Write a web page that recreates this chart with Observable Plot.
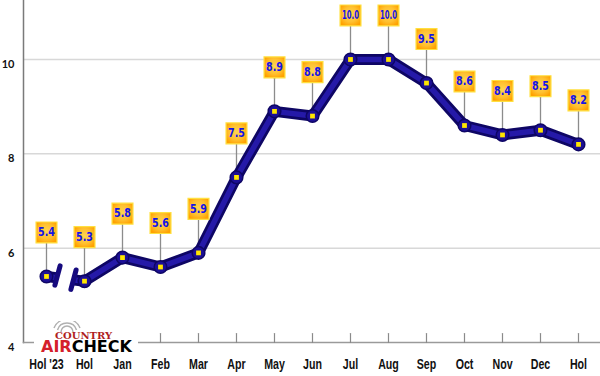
<!DOCTYPE html>
<html><head><meta charset="utf-8">
<script src="https://cdn.jsdelivr.net/npm/d3@7"></script>
<script src="https://cdn.jsdelivr.net/npm/@observablehq/plot@0.6"></script>
<style>
body{margin:0;background:#fff;}
#wrap{position:relative;width:600px;height:376px;overflow:hidden;}
#logo{position:absolute;left:34px;top:321px;width:104px;height:35px;background:#fff;}
#logo .c{position:absolute;left:21px;top:10px;font:bold 10px/9px "DejaVu Serif";color:#b01e1e;white-space:nowrap;}
#logo .a{position:absolute;left:7px;top:19px;font:bold 16px/14px "DejaVu Sans";white-space:nowrap;}
</style></head><body>
<div id="wrap"><div id="chart"></div>
<div id="logo">
<svg width="40" height="12" style="position:absolute;left:14px;top:0px">
<g fill="none" stroke="#b0b0b0" stroke-width="1.5">
<path d="M13,11 A6,6 0 0 1 25,11"/><path d="M9.5,9 A10,10 0 0 1 28.5,9"/><path d="M6,7 A14,14 0 0 1 32,7"/>
</g></svg>
<div class="c">COUNTRY</div>
<div class="a"><span style="color:#d4202a">AIR</span><span style="color:#000">CHECK</span></div>
</div>
</div>
<script>
const months = ["Hol '23","Hol","Jan","Feb","Mar","Apr","May","Jun","Jul","Aug","Sep","Oct","Nov","Dec","Hol"];
const values = [5.4,5.3,5.8,5.6,5.9,7.5,8.9,8.8,10.0,10.0,9.5,8.6,8.4,8.5,8.2];
const yTicks = [4,6,8,10];
const gridTicks = [6,8,10];
const yDomain = [4,11.25];

const data = values.map((v,i)=>({i, v, base: yDomain[0], label: months[i]}));
const idx = data.map(d=>d.i);
const breakPair = [{a: data[0], b: data[1]}];

const leaderShape = {draw(ctx, l){ctx.moveTo(0,0); ctx.lineTo(0,-l);}};
const capShape = {draw(ctx, l){ctx.moveTo(0,l/2); ctx.lineTo(0,-l/2);}};

const navy = "#160a7e";
const plot = Plot.plot({
  width: 600, height: 376,
  marginLeft: 23, marginRight: 0, marginTop: 0, marginBottom: 34,
  x: {type: "point", domain: idx, padding: 0.5, label: null},
  y: {domain: yDomain, label: null},
  marks: [
    Plot.gridY(gridTicks, {stroke: "#d8d8d8", strokeOpacity: 1, strokeWidth: 1.5}),
    Plot.frame({anchor: "left", stroke: "#7a7a7a", strokeWidth: 1.5}),
    Plot.frame({anchor: "bottom", stroke: "#9a9a9a", strokeWidth: 1.5}),
    Plot.vector(data, {x: "i", y: "base", length: 9, anchor: "start", shape: leaderShape, stroke: "#8a8a8a", strokeWidth: 1.2}),
    Plot.axisY(yTicks, {label: null, tickSize: 0, tickPadding: 9, dy: 5, fontSize: 11, fontWeight: "bold", fontFamily: "Lato", fill: "#111"}),
    Plot.axisX(idx, {label: null, tickSize: 0, tickPadding: 17, tickFormat: i => months[i], fontSize: 14, fontWeight: "bold", fontFamily: "'Liberation Sans', sans-serif", fill: "#111"}),
    Plot.vector(data, {x: "i", y: "v", length: 33, anchor: "start", shape: leaderShape, stroke: "#8c8c8c", strokeWidth: 1.3}),
    Plot.line(data, {x: "i", y: "v", stroke: "#0e0664", strokeWidth: 11, strokeLinecap: "round", strokeLinejoin: "round"}),
    Plot.line(data, {x: "i", y: "v", stroke: "#2519a8", strokeWidth: 5.5, strokeLinecap: "round", strokeLinejoin: "round"}),
    Plot.dot(data, {x: "i", y: "v", r: 6.3, fill: "#1c0f95", stroke: "#0e0664", strokeWidth: 1.5}),
    Plot.link(breakPair, {x1: d => d.a.i, y1: d => d.a.v, x2: d => d.b.i, y2: d => d.b.v, stroke: "#fff", strokeWidth: 22, strokeDasharray: "0,11,17,1000"}),
    Plot.vector([data[0]], {x: "i", y: "v", dx: 11, dy: -1, length: 20, anchor: "start", rotate: 15, shape: capShape, stroke: navy, strokeWidth: 5}),
    Plot.vector([data[1]], {x: "i", y: "v", dx: -11, dy: -1.5, length: 20, anchor: "start", rotate: 15, shape: capShape, stroke: navy, strokeWidth: 5}),
    Plot.dot(data, {x: "i", y: "v", symbol: "square", r: 2.7, fill: "#ffe600"}),
    Plot.dot(data, {x: "i", y: "v", dy: -44, symbol: "square", r: 11.8, fill: "url(#boxgrad)", stroke: "#ffe040", strokeWidth: 1.2}),
    Plot.text(data, {x: "i", y: "v", dy: -44, text: d => d.v.toFixed(1), fill: "#1414e8", fontSize: 11.5, fontWeight: "bold", fontFamily: "'DejaVu Sans', sans-serif", className: "boxlabel"})
  ]
});
const defs = document.createElementNS("http://www.w3.org/2000/svg", "defs");
defs.innerHTML = `<radialGradient id="boxgrad" cx="50%" cy="45%" r="60%">
<stop offset="0%" stop-color="#ffd650"/><stop offset="60%" stop-color="#ffc030"/><stop offset="100%" stop-color="#ffa200"/></radialGradient>`;
plot.insertBefore(defs, plot.firstChild);
// narrow the heavy x labels horizontally (condensed look)
plot.querySelectorAll('g[aria-label="x-axis tick label"] text').forEach(t => {
  const tr = t.getAttribute("transform");
  if (tr) t.setAttribute("transform", tr + " scale(0.76,1)");
});
// fit each box label to the box width
plot.querySelectorAll('g.boxlabel text').forEach(t => {
  t.setAttribute("textLength", 17);
  t.setAttribute("lengthAdjust", "spacingAndGlyphs");
});
document.getElementById("chart").appendChild(plot);
</script>
</body></html>
